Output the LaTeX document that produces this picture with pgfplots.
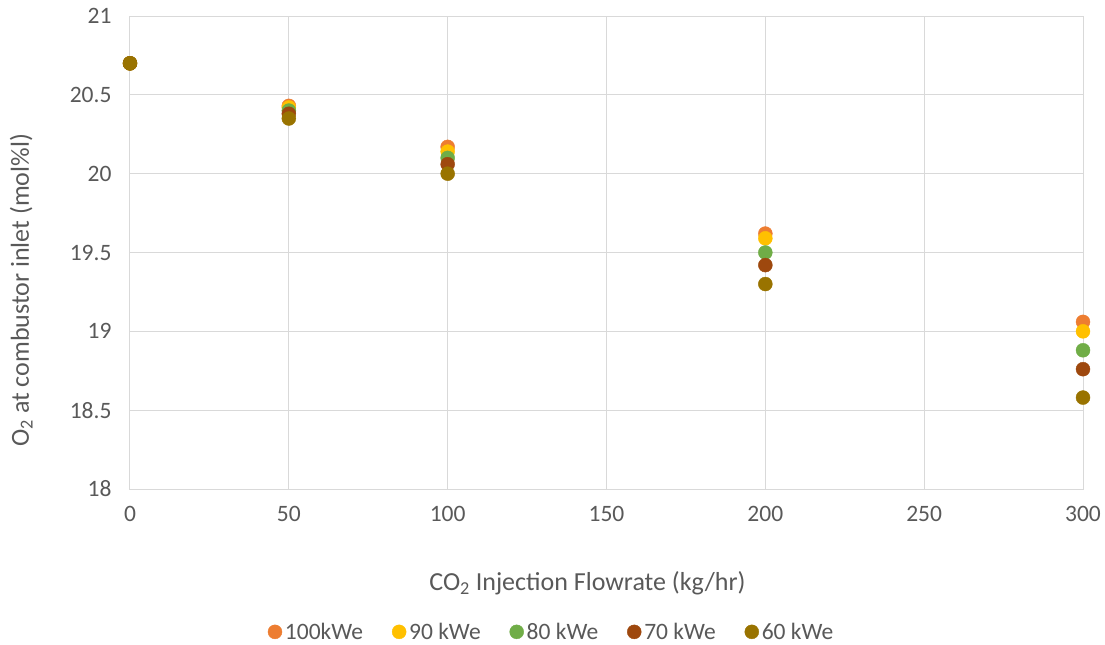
\documentclass[border=0pt]{standalone}
\usepackage{fontspec}
\setmainfont{Carlito}
\usepackage{pgfplots}
\pgfplotsset{compat=1.18}

\definecolor{cA}{HTML}{ED7D31}
\definecolor{cB}{HTML}{FFC000}
\definecolor{cC}{HTML}{70AD47}
\definecolor{cD}{HTML}{9E480E}
\definecolor{cE}{HTML}{997300}
\definecolor{gridgrey}{HTML}{D9D9D9}
\definecolor{textgrey}{HTML}{595959}

\begin{document}
\begin{tikzpicture}
\begin{axis}[
  scale only axis, width=953pt, height=473pt,
  xmin=0, xmax=300, ymin=18, ymax=21,
  xtick={0,50,...,300}, ytick={18,18.5,...,21},
  grid=major, grid style={draw=gridgrey, line width=1pt},
  axis line style={draw=gridgrey, line width=1pt},
  major tick length=0pt,
  /pgf/number format/assume math mode=true,
  ticklabel style={font=\fontsize{23.5}{26}\selectfont, text=textgrey},
  yticklabel style={xshift=-15pt},
  xticklabel style={yshift=-14pt},
  label style={font=\fontsize{26}{29}\selectfont, text=textgrey},
  xlabel={CO\textsubscript{2} Injection Flowrate (kg/hr)},
  ylabel={O\textsubscript{2} at combustor inlet (mol\%l)},
  xlabel style={at={(axis description cs:0.48,-0.2)}, anchor=center},
  ylabel style={at={(axis description cs:-0.114,0.42)}, anchor=center},
  legend columns=5,
  legend style={at={(axis description cs:0.443,-0.302)}, anchor=center, draw=none,
    font=\fontsize{23.5}{26}\selectfont, text=textgrey,
    /tikz/every even column/.append style={column sep=26pt},
    /tikz/every odd column/.append style={column sep=0pt},
    nodes={inner xsep=3pt}},
  legend image code/.code={\draw[#1] plot coordinates {(7pt,0pt)};},
  legend cell align=left,
  every axis plot/.append style={only marks, mark=*, mark size=7pt},
  clip=false,
]
\coordinate (o) at (rel axis cs:0,0);
\addplot[cA, mark options={fill=cA, draw=cA}] coordinates {(0,20.70) (50,20.43) (100,20.17) (200,19.62) (300,19.06)};
\addlegendentry{100kWe}
\addplot[cB, mark options={fill=cB, draw=cB}] coordinates {(0,20.70) (50,20.42) (100,20.14) (200,19.59) (300,19.00)};
\addlegendentry{90 kWe}
\addplot[cC, mark options={fill=cC, draw=cC}] coordinates {(0,20.70) (50,20.40) (100,20.10) (200,19.50) (300,18.88)};
\addlegendentry{80 kWe}
\addplot[cD, mark options={fill=cD, draw=cD}] coordinates {(0,20.70) (50,20.38) (100,20.06) (200,19.42) (300,18.76)};
\addlegendentry{70 kWe}
\addplot[cE, mark options={fill=cE, draw=cE}] coordinates {(0,20.70) (50,20.35) (100,20.00) (200,19.30) (300,18.58)};
\addlegendentry{60 kWe}
\end{axis}
\path[use as bounding box] ([shift={(-130pt,-155pt)}]o) rectangle ([shift={(975pt,489pt)}]o);
\end{tikzpicture}
\end{document}
